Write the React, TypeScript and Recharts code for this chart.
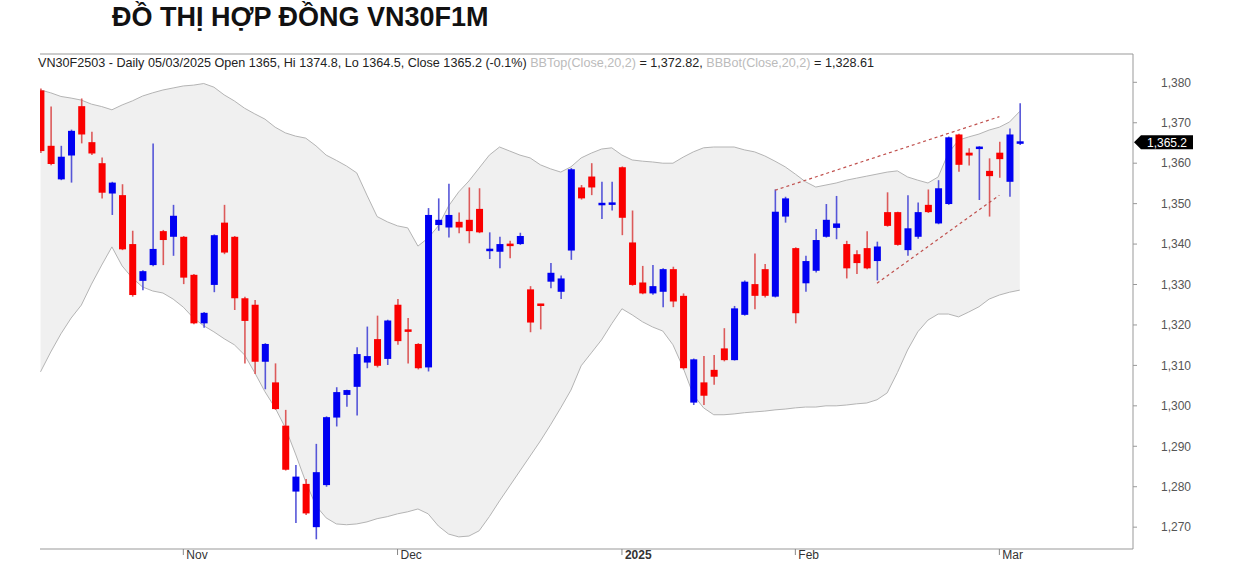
import React from "react";
import { ComposedChart, Area, Bar, XAxis, YAxis, ReferenceLine } from "recharts";

// daily candles, Oct 14 2024 .. Mar 5 2025 (index = trading day)
const opens = [
  1378, 1364.3, 1356, 1361.9, 1374.1, 1365.2, 1360, 1352.5, 1352.1, 1340,
  1330.9, 1334.8, 1343.2, 1341.8, 1341.8, 1332.4, 1320.4, 1329.9, 1345.3, 1341.8,
  1326.6, 1325, 1310.9, 1305.8, 1295.1, 1278.8, 1280.7, 1270, 1280.4, 1297.1,
  1302.7, 1304.7, 1310.7, 1316.5, 1311.6, 1325, 1318.9, 1315.3, 1309.5, 1344.7,
  1344.1, 1345.5, 1346, 1348.7, 1338.4, 1338.1, 1340, 1340, 1328.8, 1325.1,
  1330.7, 1328.2, 1338.4, 1354, 1356.7, 1349.7, 1349.8, 1359, 1340.4, 1330.5,
  1327.8, 1328.2, 1333.8, 1327.2, 1300.8, 1305.8, 1308.9, 1314.2, 1311.3, 1322.5,
  1330.1, 1333.8, 1327, 1346.8, 1339, 1330.3, 1333.4, 1341.8, 1344, 1340,
  1337.5, 1339, 1335.8, 1347.9, 1347.9, 1338.5, 1341.8, 1349.7, 1345.1, 1349.9,
  1367.1, 1362.6, 1363.5, 1358.1, 1362.6, 1355.4, 1365,
];
const highs = [
  1378.5, 1374, 1364.3, 1368.3, 1376, 1367.8, 1361.4, 1355.4, 1354.8, 1343.3,
  1333.5, 1364.9, 1343.5, 1349.7, 1342, 1332.6, 1323.2, 1342.4, 1349.7, 1342,
  1327, 1326.2, 1315.5, 1310.5, 1299, 1285.4, 1281.9, 1290.6, 1297.4, 1304.6,
  1304, 1314.5, 1319.6, 1322.3, 1321.3, 1326.4, 1321.7, 1315.5, 1348.9, 1351.3,
  1354.9, 1347.8, 1354, 1353.8, 1342.9, 1341.8, 1340.8, 1342.8, 1329.6, 1325.2,
  1335.3, 1332.2, 1358.8, 1354.6, 1360, 1355.4, 1355.4, 1359.2, 1348.3, 1334.6,
  1334.8, 1334, 1334.4, 1327.8, 1311.7, 1312.3, 1312.6, 1319.2, 1324.7, 1331,
  1337.7, 1335.1, 1353.5, 1351.7, 1339.2, 1337.1, 1343.7, 1349.9, 1351.9, 1340.8,
  1338.5, 1343.2, 1340.6, 1352.8, 1348, 1352.1, 1350.3, 1353.5, 1355.8, 1366.6,
  1367.3, 1363.7, 1364.2, 1361.2, 1365.3, 1368.6, 1374.8,
];
const lows = [
  1362.5, 1359.5, 1355.8, 1355.2, 1364.9, 1362, 1351.3, 1347.2, 1338.5, 1327,
  1328.6, 1334.5, 1334.8, 1337.1, 1330.1, 1320.2, 1319.3, 1328.1, 1337.5, 1323.7,
  1310.5, 1307.9, 1304.1, 1299, 1284, 1271, 1273, 1267, 1280, 1294.9,
  1299.8, 1297.6, 1309.3, 1309.5, 1310.1, 1315.1, 1310.5, 1309, 1308.5, 1343.3,
  1341.6, 1342.7, 1340.2, 1342.7, 1336.3, 1334, 1336.5, 1339.8, 1318.2, 1318.9,
  1329.1, 1326.4, 1336.1, 1351, 1352.1, 1346.2, 1348.3, 1342.2, 1329.7, 1327.6,
  1327.5, 1324.4, 1324.4, 1309, 1300.2, 1300.2, 1305.2, 1311, 1311.2, 1322.3,
  1323.9, 1326.8, 1326.8, 1345.3, 1320.4, 1328.2, 1333, 1341.6, 1341.2, 1331.5,
  1332.6, 1333.8, 1331, 1344.3, 1339.6, 1337.1, 1341.3, 1347.7, 1344.9, 1349.7,
  1357.9, 1359.4, 1350.9, 1346.8, 1356.4, 1351.7, 1364.5,
];
const closes = [
  1363, 1359.8, 1361.6, 1368, 1367.1, 1362.4, 1352.7, 1355.2, 1338.7, 1327.4,
  1333.3, 1338.8, 1341, 1347, 1331.7, 1320.4, 1323, 1342.2, 1337.9, 1326.6,
  1321, 1310.9, 1315.3, 1299.2, 1284.2, 1282.5, 1273.4, 1283.6, 1297.2, 1303.4,
  1303.9, 1312.8, 1312.3, 1309.9, 1321.1, 1316, 1318.3, 1309.3, 1347.2, 1346,
  1347.2, 1344.1, 1343.2, 1342.9, 1338.7, 1340, 1339.6, 1342, 1320.6, 1324.9,
  1332.9, 1331.5, 1358.5, 1351.3, 1354, 1350.1, 1350.2, 1346.5, 1329.9, 1327.8,
  1329.6, 1333.8, 1325.8, 1309.3, 1311.5, 1302.5, 1307.2, 1311.3, 1324.1, 1330.7,
  1327.2, 1327.2, 1348, 1351.3, 1322.9, 1335.8, 1341, 1346, 1345.1, 1334,
  1335.3, 1334, 1339.4, 1344.5, 1339.8, 1343.9, 1347.9, 1347.9, 1353.8, 1366.4,
  1359.6, 1361.9, 1364.1, 1356.8, 1361, 1367.1, 1365.2,
];

// Bollinger bands (Close, 20, 2)
const bbTop = [
  1378.1, 1377.4, 1376.5, 1376.1, 1375.6, 1374.6, 1374.0, 1373.2, 1374.4, 1375.4,
  1376.6, 1377.4, 1378.1, 1378.6, 1379.1, 1379.3, 1379.7, 1378.8, 1376.9, 1375.4,
  1373.6, 1372.2, 1370.9, 1368.9, 1367.5, 1366.7, 1366.2, 1364.3, 1362.0, 1360.7,
  1359.3, 1357.6, 1352.1, 1346.8, 1345.5, 1344.5, 1344.0, 1339.5, 1341.5, 1344.5,
  1349.4, 1352.9, 1355.6, 1358.8, 1362.0, 1364.0, 1363.0, 1362.0, 1361.3, 1359.6,
  1358.6, 1357.8, 1359.1, 1361.3, 1362.5, 1363.5, 1363.8, 1362.0, 1360.8, 1360.5,
  1360.3, 1360.0, 1360.0, 1361.5, 1362.8, 1363.8, 1364.0, 1364.0, 1364.0, 1363.3,
  1362.8, 1361.8, 1360.5, 1359.1, 1357.3, 1355.4, 1354.1, 1354.6, 1355.1, 1355.8,
  1356.3, 1356.8, 1357.3, 1357.8, 1358.1, 1356.6, 1355.8, 1355.1, 1356.6, 1362.5,
  1365.7, 1366.5, 1367.2, 1368.2, 1368.9, 1370.2, 1372.82,
];
const bbBot = [
  1308.4, 1313.3, 1317.8, 1321.7, 1324.9, 1330.1, 1334.8, 1339.3, 1334.6, 1331.6,
  1329.4, 1328.4, 1327.9, 1326.4, 1324.4, 1321.7, 1319.8, 1318.3, 1316.6, 1315.1,
  1312.6, 1308.2, 1303.5, 1299.5, 1294.6, 1288.1, 1281.2, 1275.3, 1272.3, 1270.8,
  1270.6, 1270.8, 1271.3, 1272.1, 1272.6, 1273.3, 1273.8, 1274.5, 1273.3, 1270.3,
  1268.3, 1267.6, 1267.8, 1269.1, 1272.6, 1276.5, 1280.2, 1283.9, 1287.6, 1291.3,
  1295.3, 1299.5, 1303.9, 1309.9, 1313.1, 1316.3, 1320.3, 1324.0, 1322.5, 1320.8,
  1319.5, 1318.5, 1315.1, 1309.4, 1302.7, 1299.5, 1297.8, 1297.8, 1298.0, 1298.3,
  1298.5, 1298.7, 1299.0, 1299.2, 1299.5, 1299.7, 1299.7, 1300.0, 1300.0, 1300.2,
  1300.5, 1300.7, 1301.5, 1303.2, 1308.2, 1313.8, 1318.3, 1321.2, 1322.7, 1322.7,
  1322.0, 1323.2, 1324.5, 1326.4, 1327.4, 1328.1, 1328.61,
];

const monthTicks = [14, 35, 57, 74, 94];
const monthLabels = ["Nov", "Dec", "2025", "Feb", "Mar"];
const priceTicks = [1270, 1280, 1290, 1300, 1310, 1320, 1330, 1340, 1350, 1360, 1370, 1380];

// hand-drawn trend lines (wedge)
const upperTrend = [{ x: 72, y: 1353.3 }, { x: 94, y: 1371.5 }];
const lowerTrend = [{ x: 82, y: 1330.3 }, { x: 94, y: 1352.1 }];

const rows = opens.map((o, i) => ({
  i,
  open: o,
  high: highs[i],
  low: lows[i],
  close: closes[i],
  range: [lows[i], highs[i]],
  band: [bbBot[i], bbTop[i]],
}));

const FONT = '"Liberation Sans", Arial, sans-serif';

function Candle(props: any) {
  const { x, y, width, height, payload } = props;
  if (x == null || y == null) return null;
  const top = Math.min(y, y + height);
  const bot = Math.max(y, y + height);
  const span = payload.high - payload.low;
  const k = span > 0 ? (bot - top) / span : 0;
  const yOf = (v: number) => top + (payload.high - v) * k;
  const up = payload.close >= payload.open;
  const body = up ? "#0000f2" : "#fa0000";
  const wick = up ? "#5656d8" : "#dc5a5a";
  const cx = x + width / 2;
  let bt = yOf(Math.max(payload.open, payload.close));
  let bb = yOf(Math.min(payload.open, payload.close));
  if (bb - bt < 2.5) {
    const m = (bt + bb) / 2;
    bt = m - 1.25;
    bb = m + 1.25;
  }
  return (
    <g>
      <line x1={cx} x2={cx} y1={top} y2={bot} stroke={wick} strokeWidth={1.6} />
      <rect x={x} y={bt} width={width} height={bb - bt} fill={body} />
    </g>
  );
}

function MonthTick(props: any) {
  const { x, y, payload } = props;
  const label = monthLabels[monthTicks.indexOf(payload.value)] ?? "";
  return (
    <g>
      <line x1={x} x2={x} y1={y - 8} y2={y - 2} stroke="#888" strokeWidth={1} />
      <text
        x={x + 3}
        y={y + 2}
        fontSize={12}
        fontFamily={FONT}
        fill="#333"
        fontWeight={label === "2025" ? "bold" : "normal"}
      >
        {label}
      </text>
    </g>
  );
}

function PriceTag(props: any) {
  const vb = props.viewBox || {};
  const tipX = (vb.x ?? 0) + (vb.width ?? 0) + 1;
  const cy = vb.y ?? 0;
  const pts = `${tipX},${cy} ${tipX + 7},${cy - 7} ${tipX + 59},${cy - 7} ${tipX + 59},${cy + 7} ${tipX + 7},${cy + 7}`;
  return (
    <g>
      <polygon points={pts} fill="#000" />
      <text x={tipX + 13} y={cy + 4.5} fontSize={12} fontFamily={FONT} fill="#fff">
        1,365.2
      </text>
    </g>
  );
}

export default function App() {
  return (
    <div style={{ position: "absolute", left: 0, top: 0, width: 1242, height: 563, background: "#fff", overflow: "hidden" }}>
      <div
        style={{
          position: "absolute",
          left: 112,
          top: 4,
          fontFamily: FONT,
          fontWeight: "bold",
          fontSize: 27,
          lineHeight: "27px",
          color: "#111",
          whiteSpace: "nowrap",
        }}
      >
        ĐỒ THỊ HỢP ĐỒNG VN30F1M
      </div>
      <ComposedChart
        width={1242}
        height={563}
        data={rows}
        margin={{ top: 54, right: 0, bottom: 0, left: 40 }}
        style={{ position: "absolute", left: 0, top: 0 }}
      >
        <XAxis
          dataKey="i"
          type="number"
          domain={[-0.05, 107.1]}
          allowDataOverflow
          ticks={monthTicks}
          tick={<MonthTick />}
          tickLine={false}
          interval={0}
          height={14}
          axisLine={{ stroke: "#999" }}
        />
        <YAxis
          orientation="right"
          domain={[1264.6, 1387]}
          allowDataOverflow
          ticks={priceTicks}
          tickFormatter={(v: number) => v.toLocaleString("en-US")}
          width={109}
          tickSize={4}
          tickMargin={24}
          tick={{ fontSize: 12, fill: "#555", fontFamily: FONT, textAnchor: "start" }}
          tickLine={{ stroke: "#999" }}
          axisLine={{ stroke: "#999" }}
        />
        <ReferenceLine y={1387} stroke="#999" strokeWidth={1} />
        <Area
          dataKey="band"
          type="linear"
          fill="#f0f0f0"
          fillOpacity={1}
          stroke="#b4b4b4"
          strokeWidth={1}
          dot={false}
          activeDot={false}
          isAnimationActive={false}
        />
        <ReferenceLine segment={upperTrend} stroke="#c0504d" strokeWidth={1.2} strokeDasharray="3 3" />
        <ReferenceLine segment={lowerTrend} stroke="#c0504d" strokeWidth={1.2} strokeDasharray="3 3" />
        <Bar dataKey="range" barSize={7} shape={<Candle />} isAnimationActive={false} />
        <ReferenceLine y={1365.2} stroke="none" label={<PriceTag />} />
      </ComposedChart>
      <div
        style={{
          position: "absolute",
          left: 38,
          top: 57,
          fontFamily: FONT,
          fontSize: 12.6,
          lineHeight: "13px",
          whiteSpace: "nowrap",
          color: "#222",
        }}
      >
        VN30F2503 - Daily 05/03/2025 Open 1365, Hi 1374.8, Lo 1364.5, Close 1365.2 (-0.1%){" "}
        <span style={{ color: "#bbb" }}>BBTop(Close,20,2)</span> = 1,372.82,{" "}
        <span style={{ color: "#bbb" }}>BBBot(Close,20,2)</span> = 1,328.61
      </div>
    </div>
  );
}
